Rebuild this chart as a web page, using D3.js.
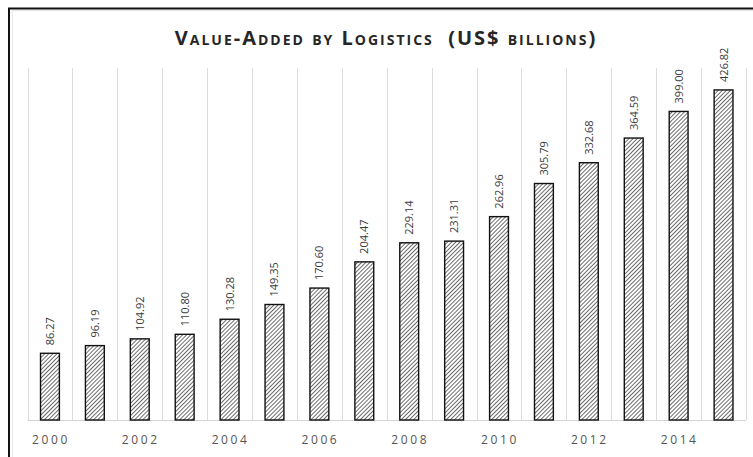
<!DOCTYPE html>
<html>
<head>
<meta charset="utf-8">
<script src="https://cdn.jsdelivr.net/npm/d3@7/dist/d3.min.js"></script>
<style>
  html, body { margin: 0; padding: 0; background: #ffffff; }
  svg { display: block; }
</style>
</head>
<body>
<svg id="chart" width="753" height="457"></svg>
<script>
// Value added by logistics, US$ billions
const years = ["2000","2001","2002","2003","2004","2005","2006","2007",
               "2008","2009","2010","2011","2012","2013","2014","2015"];
const values = [86.27, 96.19, 104.92, 110.80, 130.28, 149.35, 170.60, 204.47,
                229.14, 231.31, 262.96, 305.79, 332.68, 364.59, 399.00, 426.82];
const tickLabels = ["2000","2002","2004","2006","2008","2010","2012","2014"];
const titleText = "Value-Added by Logistics\u00a0\u00a0(US$ billions)";

const W = 753, H = 457;
const svg = d3.select("#chart");

// outer frame (runs past the right and bottom edges)
svg.append("rect")
  .attr("x", 9).attr("y", 8.5)
  .attr("width", 760).attr("height", 470)
  .attr("fill", "#ffffff")
  .attr("stroke", "#111").attr("stroke-width", 2);
svg.append("rect")
  .attr("x", 12.5).attr("y", 10.5)
  .attr("width", 760).attr("height", 470)
  .attr("fill", "none")
  .attr("stroke", "#e6e6e6").attr("stroke-width", 1);

// diagonal hatch pattern for bars
const defs = svg.append("defs");
const hs = 2.9;
const pat = defs.append("pattern")
  .attr("id", "hatch")
  .attr("patternUnits", "userSpaceOnUse")
  .attr("width", hs).attr("height", hs)
  .attr("patternTransform", "rotate(45)");
pat.append("rect").attr("width", hs).attr("height", hs).attr("fill", "#ffffff");
pat.append("line")
  .attr("x1", 0).attr("y1", 0).attr("x2", 0).attr("y2", hs)
  .attr("stroke", "#1e1e1e").attr("stroke-width", 1.3);

const plot = { left: 27.5, right: 746, top: 68, bottom: 420 };

const x = d3.scaleBand()
  .domain(years)
  .range([plot.left, plot.right])
  .padding(0);

const y = d3.scaleLinear()
  .domain([0, 450])
  .range([plot.bottom, 72]);

// vertical gridlines at category boundaries
const bounds = years.map(d => x(d)).concat([x(years[years.length - 1]) + x.bandwidth()]);
svg.append("g").selectAll("line")
  .data(bounds)
  .join("line")
  .attr("x1", d => Math.round(d) + 0.5).attr("x2", d => Math.round(d) + 0.5)
  .attr("y1", plot.top).attr("y2", plot.bottom)
  .attr("stroke", "#dcdcdc").attr("stroke-width", 1);

// category axis baseline
svg.append("line")
  .attr("x1", plot.left).attr("x2", plot.right)
  .attr("y1", plot.bottom + 0.5).attr("y2", plot.bottom + 0.5)
  .attr("stroke", "#d4d4d4").attr("stroke-width", 1);

// bars
const barW = x.bandwidth() * 0.42;
svg.append("g").selectAll("rect")
  .data(years.map((yr, i) => ({ yr, v: values[i] })))
  .join("rect")
  .attr("x", d => x(d.yr) + (x.bandwidth() - barW) / 2)
  .attr("y", d => y(d.v))
  .attr("width", barW)
  .attr("height", d => y(0) - y(d.v))
  .attr("fill", "url(#hatch)")
  .attr("stroke", "#111")
  .attr("stroke-width", 1.4);

// rotated value labels
svg.append("g").selectAll("text")
  .data(years.map((yr, i) => ({ yr, v: values[i] })))
  .join("text")
  .attr("transform", d => `translate(${x(d.yr) + x.bandwidth() / 2 + 4},${y(d.v) - 8}) rotate(-90)`)
  .attr("text-anchor", "start")
  .attr("font-family", "'Open Sans', sans-serif")
  .attr("font-size", 11)
  .attr("fill", "#3a3a3a")
  .text(d => d.v.toFixed(2));

// year axis labels
const xAxis = d3.axisBottom(x)
  .tickValues(tickLabels)
  .tickSize(0)
  .tickPadding(0);
const gx = svg.append("g")
  .attr("transform", `translate(0,${plot.bottom})`)
  .call(xAxis);
gx.select(".domain").remove();
gx.selectAll("text")
  .attr("y", 24)
  .attr("dy", 0)
  .attr("dx", 1)
  .attr("font-family", "'Open Sans', sans-serif")
  .attr("font-size", 12)
  .attr("letter-spacing", "2.6px")
  .attr("fill", "#555");

// title in small caps
svg.append("text")
  .attr("x", 386)
  .attr("y", 45)
  .attr("text-anchor", "middle")
  .attr("font-family", "'Open Sans', sans-serif")
  .attr("font-weight", "bold")
  .attr("font-size", 20)
  .attr("font-variant", "small-caps")
  .attr("letter-spacing", "2px")
  .attr("fill", "#262626")
  .text(titleText);
</script>
</body>
</html>
